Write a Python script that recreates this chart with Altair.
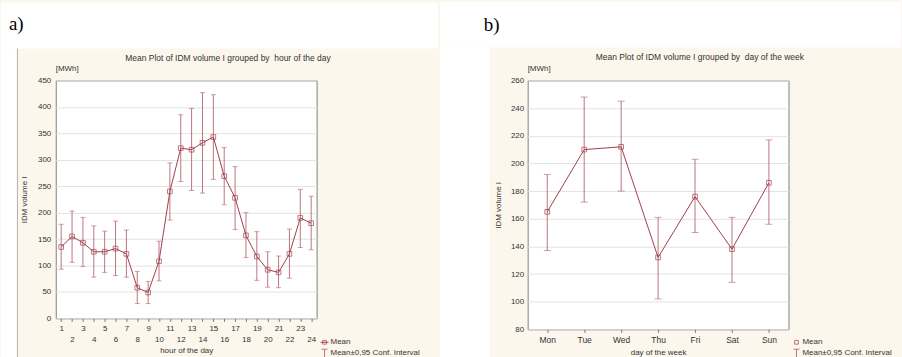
import altair as alt
import pandas as pd

# ---------------- data ----------------
hours = list(range(1, 25))
hour_mean = [135, 155, 143, 126, 126, 132, 122, 58, 49, 108, 240, 322,
             319, 332, 343, 269, 228, 157, 117, 92, 87, 122, 190, 180]
hour_lo = [93, 106, 98, 78, 87, 81, 78, 28, 28, 71, 186, 259,
           242, 237, 263, 215, 168, 115, 72, 59, 58, 76, 134, 130]
hour_hi = [178, 203, 191, 175, 165, 184, 167, 89, 70, 146, 294, 385,
           397, 427, 423, 323, 287, 200, 164, 126, 118, 169, 244, 231]
hour_ticks_y = list(range(0, 451, 50))

days = ["Mon", "Tue", "Wed", "Thu", "Fri", "Sat", "Sun"]
day_mean = [165, 210, 212, 132, 176, 138, 186]
day_lo = [137, 172, 180, 102, 150, 114, 156]
day_hi = [192, 248, 245, 161, 203, 161, 217]
day_ticks_y = list(range(80, 261, 20))

title_a = "Mean Plot of IDM volume I grouped by\u00a0 hour of the day"
title_b = "Mean Plot of IDM volume I grouped by\u00a0 day of the week"

# ---------------- style ----------------
BEIGE = "#fcf7ec"
RED = "#a03e4c"
ERR = "#bb7480"
TXT = "#333333"
FONT = "Liberation Sans"
SERIF = "Liberation Serif"

df_h = pd.DataFrame({"hour": hours, "mean": hour_mean, "lo": hour_lo, "hi": hour_hi})
df_d = pd.DataFrame({"day": days, "mean": day_mean, "lo": day_lo, "hi": day_hi})
one = pd.DataFrame({"k": [0]})


def rect(x, x2, y, y2, color="white"):
    return alt.Chart(one).mark_rect(color=color, strokeWidth=0).encode(
        x=alt.value(x), x2=alt.value(x2), y=alt.value(y), y2=alt.value(y2))


def txt(s, x, y, size=8, align="left", font=FONT, color=TXT, **kw):
    return alt.Chart(one).mark_text(text=s, fontSize=size, align=align, baseline="middle",
                                    font=font, color=color, **kw).encode(
        x=alt.value(x), y=alt.value(y))


def legend(x, y, with_line):
    parts = []
    if with_line:
        parts.append(alt.Chart(one).mark_rule(color=RED, strokeWidth=1).encode(
            x=alt.value(x - 4), x2=alt.value(x + 4), y=alt.value(y)))
    parts.append(alt.Chart(one).mark_point(shape="square", size=14, filled=False, color=RED,
                                           strokeWidth=1).encode(x=alt.value(x), y=alt.value(y)))
    parts.append(txt("Mean", x + 6, y, size=8))
    parts.append(alt.Chart(one).mark_rule(color=ERR, strokeWidth=1).encode(
        x=alt.value(x), y=alt.value(y + 7), y2=alt.value(y + 16)))
    parts.append(alt.Chart(one).mark_rule(color=ERR, strokeWidth=1).encode(
        x=alt.value(x - 3), x2=alt.value(x + 3), y=alt.value(y + 7)))
    parts.append(txt("Mean\u00b10,95 Conf. Interval", x + 6, y + 11, size=8,
                     limit=99, ellipsis=""))
    return parts


# ---------------- left panel ----------------
W1, H1 = 262, 239
xh_scale = alt.Scale(domain=[0.5, 24.5], nice=False, zero=False)
xh_axis = alt.Axis(values=hours,
                   labelExpr="datum.value % 2 == 0 ? ['', datum.label] : datum.label",
                   labelLineHeight=11, labelOverlap=False, labelFlush=False,
                   grid=False, domain=False, tickSize=3, tickColor="#777",
                   labelPadding=3, title="hour of the day", titlePadding=3)
yh_scale = alt.Scale(domain=[0, 450], nice=False, zero=True)
yh_axis = alt.Axis(values=hour_ticks_y, grid=True, gridColor="#e2e2e2", labelOverlap=False,
                   domain=False, ticks=False, labelPadding=5,
                   title="IDM volume I", titlePadding=9)


def XH():
    return alt.X("hour:Q", scale=xh_scale, axis=xh_axis)


def YH(f):
    return alt.Y(f"{f}:Q", scale=yh_scale, axis=yh_axis)


base_h = alt.Chart(df_h)
left_layers = [
    rect(-55, 384, -78, -32),
    rect(-55, -39, -32, 279),
    alt.Chart(one).mark_rule(color="#b5b0a8", strokeWidth=1).encode(
        x=alt.value(-38.5), y=alt.value(-32), y2=alt.value(279)),
    txt("a)", -47, -57, size=19, font=SERIF, color="black"),
    txt(title_a, 173, -23, size=8.5, align="center"),
    txt("[MWh]", 0, -11, size=8),
    base_h.mark_rule(color=ERR, strokeWidth=1).encode(x=XH(), y=YH("lo"), y2="hi:Q"),
    base_h.mark_tick(orient="horizontal", size=5, thickness=1, color=ERR).encode(
        x=XH(), y=YH("lo")),
    base_h.mark_tick(orient="horizontal", size=5, thickness=1, color=ERR).encode(
        x=XH(), y=YH("hi")),
    base_h.mark_line(color=RED, strokeWidth=1).encode(x=XH(), y=YH("mean")),
    base_h.mark_point(shape="square", size=22, filled=False, color=RED, strokeWidth=1).encode(
        x=XH(), y=YH("mean")),
] + legend(270, 263, True)

left = alt.layer(*left_layers).properties(width=W1, height=H1)

# ---------------- right panel ----------------
W2, H2 = 262, 250
xd_scale = alt.Scale(type="point", padding=0.53)
xd_axis = alt.Axis(labelAngle=0, grid=False, domain=False, tickSize=3, tickColor="#777",
                   labelPadding=3, labelFontSize=8.5, labelOverlap=False,
                   title="day of the week", titlePadding=5)
yd_scale = alt.Scale(domain=[80, 260], nice=False, zero=False)
yd_axis = alt.Axis(values=day_ticks_y, grid=True, gridColor="#e2e2e2", labelOverlap=False,
                   domain=False, ticks=False, labelPadding=4,
                   title="IDM volume I", titlePadding=8)


def XD():
    return alt.X("day:N", sort=days, scale=xd_scale, axis=xd_axis)


def YD(f):
    return alt.Y(f"{f}:Q", scale=yd_scale, axis=yd_axis)


base_d = alt.Chart(df_d)
right_layers = [
    rect(-88, 375, -79, -33),
    rect(-88, -38, -33, 278),
    txt("b)", -44, -56, size=19, font=SERIF, color="black"),
    txt(title_b, 173, -24, size=8.5, align="center"),
    txt("[MWh]", 0, -11, size=8),
    base_d.mark_rule(color=ERR, strokeWidth=1).encode(x=XD(), y=YD("lo"), y2="hi:Q"),
    base_d.mark_tick(orient="horizontal", size=7, thickness=1, color=ERR).encode(
        x=XD(), y=YD("lo")),
    base_d.mark_tick(orient="horizontal", size=7, thickness=1, color=ERR).encode(
        x=XD(), y=YD("hi")),
    base_d.mark_line(color=RED, strokeWidth=1).encode(x=XD(), y=YD("mean")),
    base_d.mark_point(shape="square", size=22, filled=False, color=RED, strokeWidth=1).encode(
        x=XD(), y=YD("mean")),
] + legend(270, 263, False)

right = alt.layer(*right_layers).properties(width=W2, height=H2)

chart = alt.hconcat(left, right, spacing=0, bounds="full").properties(
    padding=0, background=BEIGE
).configure_view(
    fill="white", stroke="#808080", strokeWidth=1
).configure_axis(
    labelFont=FONT, titleFont=FONT, labelFontSize=8, titleFontSize=8,
    labelColor=TXT, titleColor=TXT, titleFontWeight="normal"
)

chart.save("out.html", embed_options={"renderer": "svg", "actions": False})
